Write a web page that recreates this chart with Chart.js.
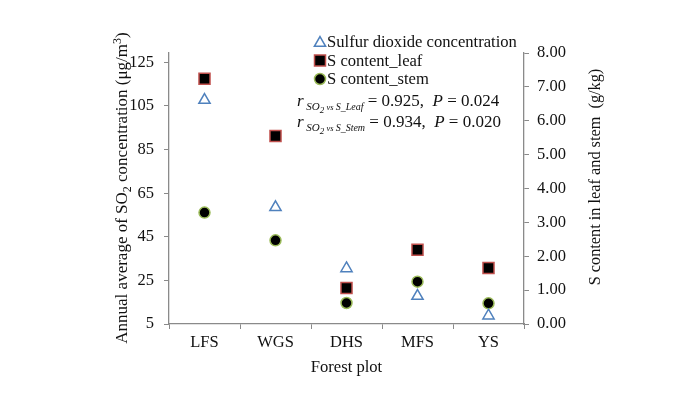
<!DOCTYPE html>
<html>
<head>
<meta charset="utf-8">
<script src="https://cdn.jsdelivr.net/npm/chart.js@4/dist/chart.umd.min.js"></script>
<style>
html,body{margin:0;padding:0;background:#fff;}
#c{display:block;}
</style>
</head>
<body>
<canvas id="c" width="700" height="393"></canvas>
<script>
// ---- data ----
const categories = ['LFS', 'WGS', 'DHS', 'MFS', 'YS'];
const so2Values = [107.7, 58.5, 30.5, 17.8, 8.8];      // left axis, µg/m3
const leafValues = [7.24, 5.55, 1.06, 2.19, 1.65];     // right axis, g/kg
const stemValues = [3.29, 2.47, 0.62, 1.25, 0.61];     // right axis, g/kg
const leftTicks = [5, 25, 45, 65, 85, 105, 125];
const rightTicks = [0, 1, 2, 3, 4, 5, 6, 7, 8];
const seriesNames = ['Sulfur dioxide concentration', 'S content_leaf', 'S content_stem'];
const statLines = [
  {sub: 'S_Leaf', r: '0.925', p: '0.024'},
  {sub: 'S_Stem', r: '0.934', p: '0.020'}
];

const SERIF = '"Liberation Serif", "Times New Roman", serif';
const TXT = '#111';
const AX = '#8a8a8a';
const BLUE = '#4F81BD';
const RED = '#C0504D';
const GREEN = '#9BBB59';

function drawTri(ctx, x, y) {
  const r = 6.5;
  ctx.save();
  ctx.beginPath();
  ctx.moveTo(x, y - r);
  ctx.lineTo(x + r * Math.sin(2 * Math.PI / 3), y + r / 2);
  ctx.lineTo(x - r * Math.sin(2 * Math.PI / 3), y + r / 2);
  ctx.closePath();
  ctx.fillStyle = '#fff';
  ctx.fill();
  ctx.strokeStyle = BLUE; ctx.lineWidth = 1.5; ctx.stroke();
  ctx.restore();
}
function drawSq(ctx, x, y) {
  ctx.save();
  ctx.fillStyle = '#000';
  ctx.fillRect(x - 5.5, y - 5.5, 11, 11);
  ctx.strokeStyle = RED; ctx.lineWidth = 1.5;
  ctx.strokeRect(x - 5.5, y - 5.5, 11, 11);
  ctx.restore();
}
function drawCirc(ctx, x, y) {
  ctx.save();
  ctx.beginPath(); ctx.arc(x, y, 5.5, 0, Math.PI * 2);
  ctx.fillStyle = '#000'; ctx.fill();
  ctx.strokeStyle = GREEN; ctx.lineWidth = 1.5; ctx.stroke();
  ctx.restore();
}

// draws a sequence of [text, font, dy] segments starting at x, baseline y
function drawSegs(ctx, segs, x, y) {
  let cx = x;
  segs.forEach(s => {
    ctx.font = s[1];
    ctx.fillText(s[0], cx, y + (s[2] || 0));
    cx += ctx.measureText(s[0]).width;
  });
  return cx;
}
function segsWidth(ctx, segs) {
  let w = 0;
  segs.forEach(s => { ctx.font = s[1]; w += ctx.measureText(s[0]).width; });
  return w;
}

const decor = {
  id: 'decor',
  afterDraw(chart) {
    const ctx = chart.ctx;
    ctx.save();
    ctx.fillStyle = TXT;
    ctx.textBaseline = 'alphabetic';
    ctx.textAlign = 'left';
    const F17 = '17px ' + SERIF;
    const F165 = '16.6px ' + SERIF;
    const F12 = '12px ' + SERIF;

    // left axis title (rotated)
    const lt = [['Annual average of SO', F17, 0], ['2', F12, 4], [' concentration (\u03bcg/m', F17, 0], ['3', F12, -6], [')', F17, 0]];
    const lw = segsWidth(ctx, lt);
    ctx.save();
    ctx.translate(127, 188);
    ctx.rotate(-Math.PI / 2);
    drawSegs(ctx, lt, -lw / 2, 0);
    ctx.restore();

    // right axis title (rotated, bottom to top)
    const rt = [['S content in leaf and stem  (g/kg)', '16.3px ' + SERIF, 0]];
    const rw = segsWidth(ctx, rt);
    ctx.save();
    ctx.translate(600, 177);
    ctx.rotate(-Math.PI / 2);
    drawSegs(ctx, rt, -rw / 2, 0);
    ctx.restore();

    // legend
    const markers = [drawTri, drawSq, drawCirc];
    const rowsY = [42, 60.5, 79];
    seriesNames.forEach((name, i) => {
      markers[i](ctx, 320, rowsY[i] + (i === 0 ? 1 : 0));
      ctx.fillStyle = TXT;
      ctx.font = F165;
      ctx.textBaseline = 'middle';
      ctx.fillText(name, 327, rowsY[i] + 1);
    });
    ctx.textBaseline = 'alphabetic';

    // statistics annotation
    const baseY = [106, 126.5];
    statLines.forEach((s, i) => {
      const y = baseY[i];
      const segs = [
        ['r', 'italic 17px ' + SERIF, 0],
        [' SO', 'italic 11px ' + SERIF, 4],
        ['2', 'italic 9px ' + SERIF, 7],
        [' vs ', 'italic 8.5px ' + SERIF, 4],
        [s.sub, 'italic 10px ' + SERIF, 4],
        [' = ' + s.r + ',  ', F17, 0],
        ['P', 'italic 17px ' + SERIF, 0],
        [' = ' + s.p, F17, 0]
      ];
      ctx.fillStyle = TXT;
      drawSegs(ctx, segs, 297, y);
    });

    // x axis title
    ctx.font = F165;
    ctx.textAlign = 'center';
    ctx.fillText('Forest plot', (chart.chartArea.left + chart.chartArea.right) / 2, 372);
    ctx.restore();
  }
};

const ctx = document.getElementById('c').getContext('2d');
new Chart(ctx, {
  type: 'line',
  data: {
    labels: categories,
    datasets: [
      {
        label: seriesNames[0], data: so2Values, yAxisID: 'y', showLine: false,
        pointStyle: 'triangle', pointRadius: 6.5, pointHoverRadius: 6.5,
        pointBackgroundColor: '#fff', pointBorderColor: BLUE, pointBorderWidth: 1.5
      },
      {
        label: seriesNames[1], data: leafValues, yAxisID: 'y2', showLine: false,
        pointStyle: 'rect', pointRadius: 7.8, pointHoverRadius: 7.8,
        pointBackgroundColor: '#000', pointBorderColor: RED, pointBorderWidth: 1.5
      },
      {
        label: seriesNames[2], data: stemValues, yAxisID: 'y2', showLine: false,
        pointStyle: 'circle', pointRadius: 5.5, pointHoverRadius: 5.5,
        pointBackgroundColor: '#000', pointBorderColor: GREEN, pointBorderWidth: 1.5
      }
    ]
  },
  options: {
    responsive: false,
    animation: false,
    layout: { padding: { top: 53, left: 0, right: 0, bottom: 0 } },
    plugins: { legend: { display: false }, tooltip: { enabled: false } },
    scales: {
      x: {
        type: 'category',
        offset: true,
        grid: { offset: true, drawOnChartArea: false, drawTicks: true, tickLength: 5, color: AX },
        border: { color: AX, width: 1.3 },
        ticks: { color: TXT, font: { family: SERIF, size: 16.5 }, padding: 4, maxRotation: 0 },
        afterFit(s) { s.height = 69; }
      },
      y: {
        position: 'left',
        min: 5, max: 129.3,
        afterBuildTicks(s) { s.ticks = leftTicks.map(v => ({ value: v })); },
        grid: { drawOnChartArea: false, tickLength: 5, color: AX },
        border: { color: AX, width: 1.3 },
        ticks: { color: TXT, font: { family: SERIF, size: 16.5 }, padding: 10 },
        afterFit(s) { s.width = 169; }
      },
      y2: {
        position: 'right',
        min: 0, max: 8,
        afterBuildTicks(s) { s.ticks = rightTicks.map(v => ({ value: v })); },
        grid: { drawOnChartArea: false, tickLength: 5, color: AX },
        border: { color: AX, width: 1.3 },
        ticks: { color: TXT, font: { family: SERIF, size: 16.5 }, padding: 8,
                 callback: v => Number(v).toFixed(2) },
        afterFit(s) { s.width = 176; }
      }
    }
  },
  plugins: [decor]
});
</script>
</body>
</html>
